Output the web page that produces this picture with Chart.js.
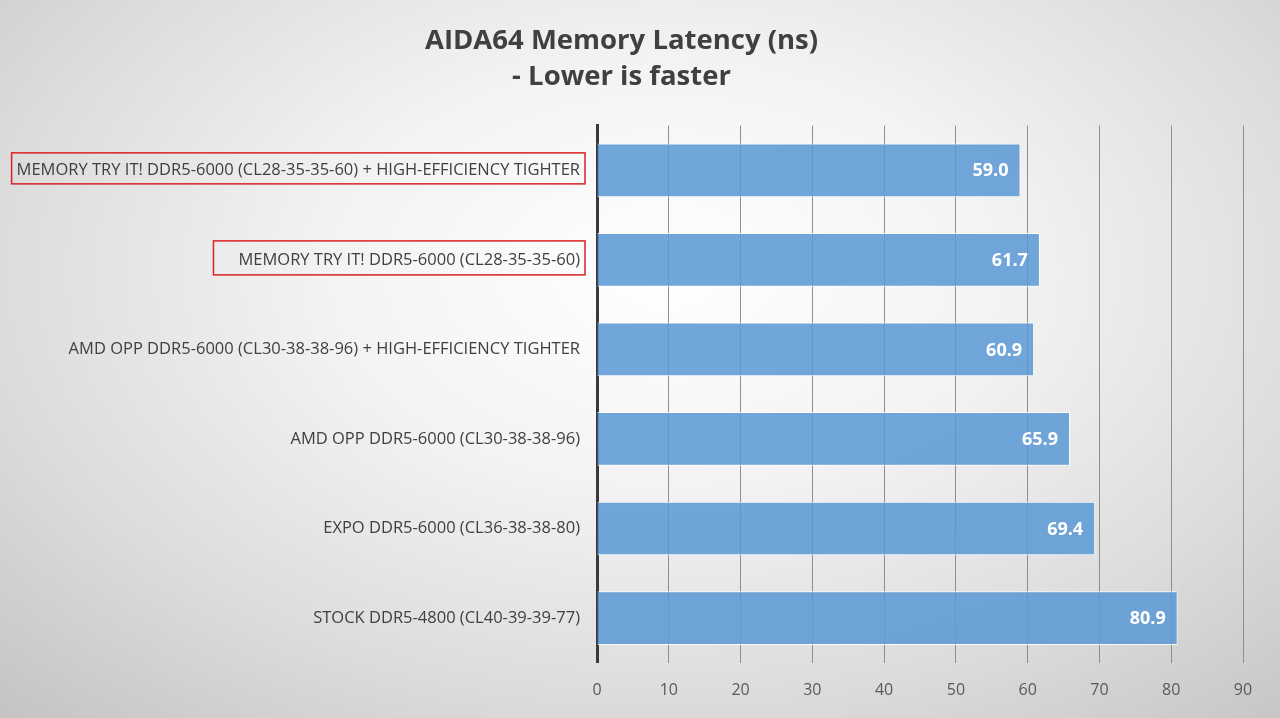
<!DOCTYPE html>
<html>
<head>
<meta charset="utf-8">
<script src="https://cdn.jsdelivr.net/npm/chart.js@4/dist/chart.umd.min.js"></script>
<style>
  html, body { margin: 0; padding: 0; }
  #wrap {
    width: 1280px; height: 718px; position: relative;
    background: radial-gradient(ellipse 75% 85% at 52% 38%, #ffffff 0%, #f3f3f3 35%, #dcdcdc 70%, #c4c4c4 100%);
  }
</style>
</head>
<body>
<div id="wrap"><canvas id="myChart" width="1280" height="718"></canvas></div>
<script>
// categories (top to bottom) and latency values in ns
let configNames = [
    'MEMORY TRY IT! DDR5-6000 (CL28-35-35-60) + HIGH-EFFICIENCY TIGHTER',
    'MEMORY TRY IT! DDR5-6000 (CL28-35-35-60)',
    'AMD OPP DDR5-6000 (CL30-38-38-96) + HIGH-EFFICIENCY TIGHTER',
    'AMD OPP DDR5-6000 (CL30-38-38-96)',
    'EXPO DDR5-6000 (CL36-38-38-80)',
    'STOCK DDR5-4800 (CL40-39-39-77)'
];
let latency = [59.0, 61.7, 60.9, 65.9, 69.4, 80.9];
let xTicks = [0, 10, 20, 30, 40, 50, 60, 70, 80, 90];
let boxedRows = [0, 1];

const labelFont = {family: "'Open Sans', sans-serif", size: 16.5};

// white value text at the end of each bar
const valueLabels = {
    id: 'valueLabels',
    afterDatasetsDraw(chart) {
        const ctx = chart.ctx;
        const meta = chart.getDatasetMeta(0);
        ctx.save();
        ctx.font = "bold 18px 'Open Sans', sans-serif";
        ctx.fillStyle = '#ffffff';
        ctx.textAlign = 'right';
        ctx.textBaseline = 'middle';
        meta.data.forEach((bar, i) => {
            ctx.fillText(latency[i].toFixed(1), bar.x - 12, bar.y + 1);
        });
        ctx.restore();
    }
};

// red frames around highlighted category labels
const redBoxes = {
    id: 'redBoxes',
    afterDraw(chart) {
        const ctx = chart.ctx;
        const yScale = chart.scales.y;
        const right = chart.chartArea.left - 17;
        ctx.save();
        ctx.font = labelFont.size + 'px ' + labelFont.family;
        ctx.strokeStyle = '#dc2026';
        ctx.lineWidth = 1.5;
        boxedRows.forEach((row, k) => {
            let w = ctx.measureText(configNames[row]).width;
            let cy = yScale.getPixelForTick(row) - 2;
            // the second frame is a bit looser on the left in the original
            let extra = k == 0 ? 0 : 20;
            let h = k == 0 ? 31 : 34;
            ctx.strokeRect(right - w - 5 - extra, cy - h / 2, w + 10 + extra, h);
        });
        ctx.restore();
    }
};

let ctx = document.getElementById('myChart').getContext('2d');
let myChart = new Chart(ctx, {
    type: 'bar',
    data: {
        labels: configNames,
        datasets: [{
            data: latency,
            backgroundColor: 'rgba(92,154,212,0.88)',
            borderColor: 'rgba(255,255,255,0.85)',
            borderWidth: 1,
            barPercentage: 0.6,
            categoryPercentage: 1.0
        }]
    },
    options: {
        indexAxis: 'y',
        responsive: false,
        animation: false,
        layout: {padding: {left: 0, right: 37, top: 0, bottom: 0}},
        plugins: {
            legend: {display: false},
            tooltip: {enabled: false},
            title: {
                display: true,
                text: ['AIDA64 Memory Latency (ns)', '- Lower is faster'],
                color: '#404040',
                font: {family: "'Open Sans', sans-serif", size: 27.5, weight: 'bold', lineHeight: 1.32},
                padding: {top: 23, bottom: 30}
            }
        },
        scales: {
            x: {
                min: 0,
                max: 90,
                afterBuildTicks: function (scale) {
                    scale.ticks = xTicks.map(v => ({value: v}));
                },
                ticks: {
                    color: '#595959',
                    font: {family: "'Open Sans', sans-serif", size: 16},
                    padding: 18
                },
                grid: {
                    color: '#8e8e8e',
                    lineWidth: 1,
                    drawTicks: false
                },
                border: {display: false}
            },
            y: {
                afterFit: function (scale) {
                    scale.width = 597;
                },
                ticks: {
                    color: '#404040',
                    font: labelFont,
                    padding: 17,
                    autoSkip: false
                },
                grid: {display: false, drawTicks: false},
                border: {display: true, color: '#3a3a3a', width: 3}
            }
        }
    },
    plugins: [valueLabels, redBoxes]
});
</script>
</body>
</html>
